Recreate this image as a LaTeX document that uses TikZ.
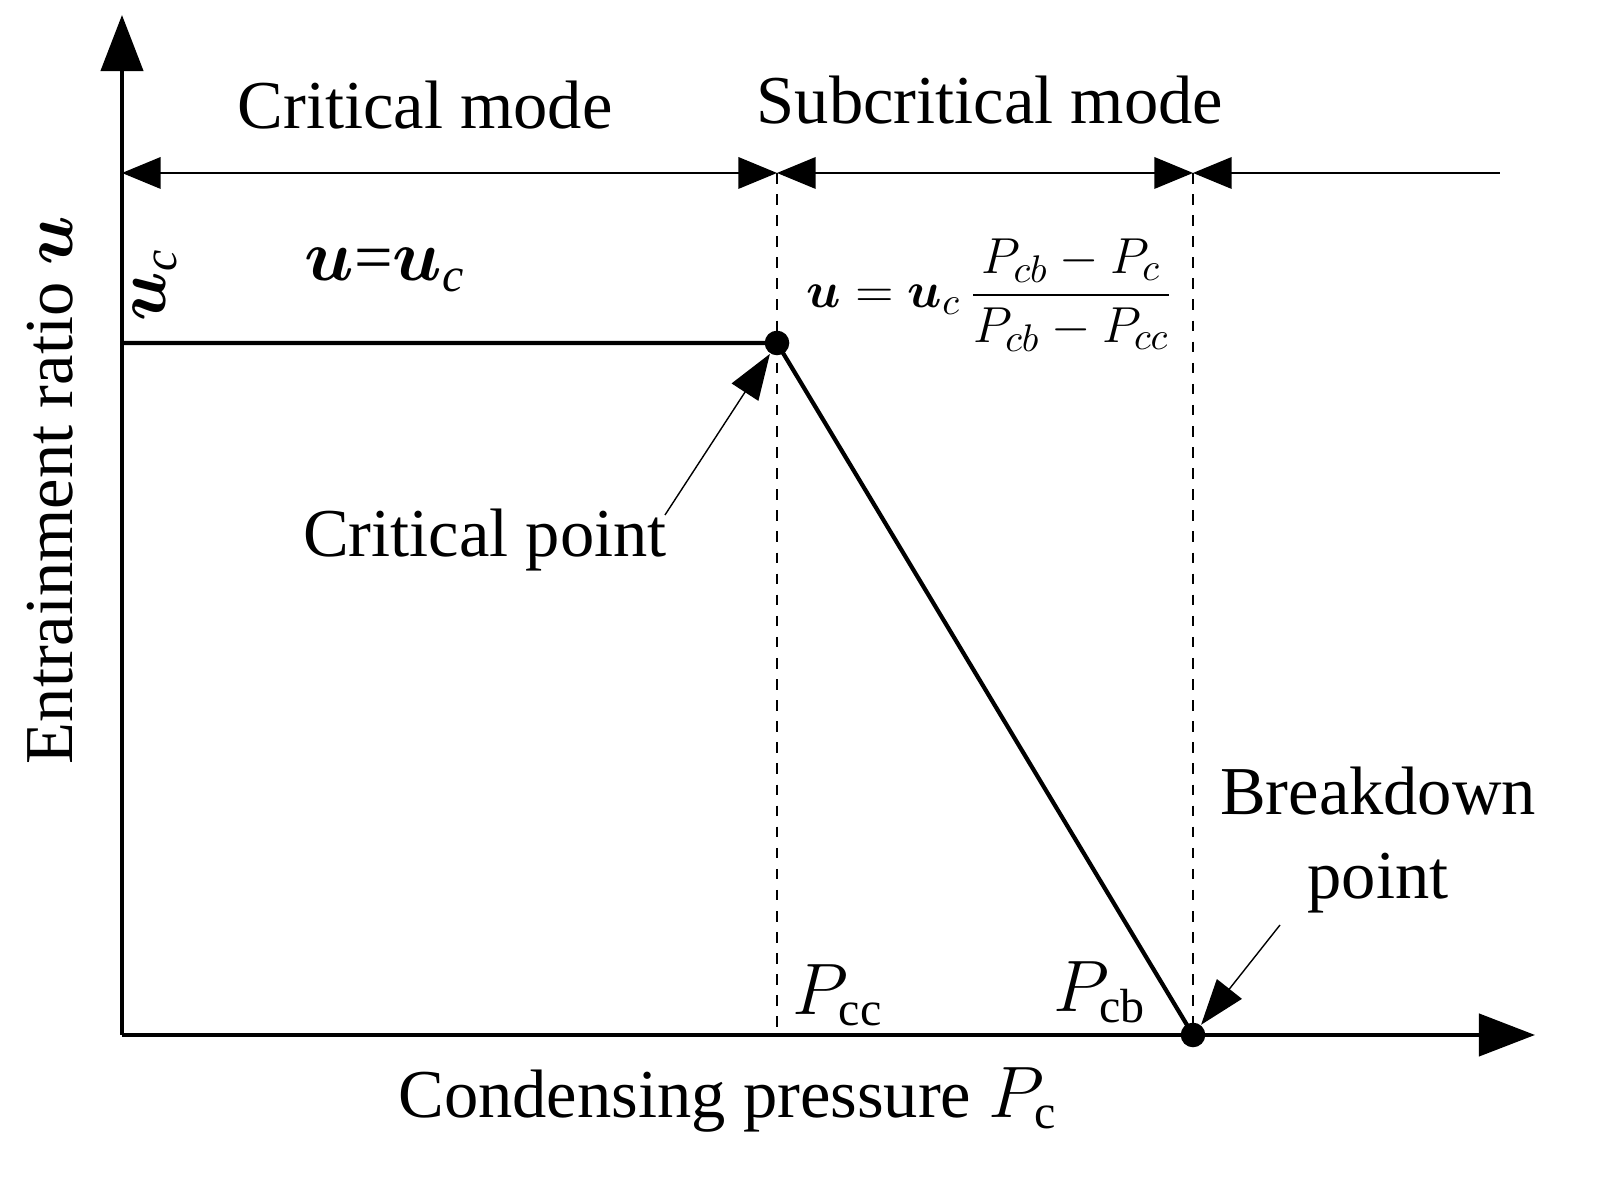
\documentclass[tikz,border=0pt]{standalone}
\usepackage{amsmath,bm}
\usepackage{fontspec}
\setmainfont{Liberation Serif}
\usetikzlibrary{arrows.meta,positioning}

\begin{document}
\begin{tikzpicture}[
	lbl/.style={font=\fontsize{19.5}{24}\selectfont},
	dim/.style={thin,{Triangle[length=11pt,width=9pt]}-{Triangle[length=11pt,width=9pt]}},
	dot/.style={circle,fill=black,inner sep=0pt,minimum size=7pt}]
	\useasboundingbox (0,0) rectangle (16.04,11.9);

	%Axes
	\coordinate (O) at (1.22,1.55);
	\coordinate (ytop) at (1.22,11.75);
	\coordinate (xend) at (15.35,1.55);
	\draw[very thick,-{Triangle[length=16pt,width=12pt]}] (O) -- (ytop);
	\draw[very thick,-{Triangle[length=16pt,width=12pt]}] (O) -- (xend);

	%Points of the curve
	\node[dot] (cp) at (7.77,8.47) {};
	\node[dot] (bp) at (11.93,1.55) {};
	\coordinate (uc) at (1.22,8.47);
	\draw[very thick] (uc) -- (cp.center) -- (bp.center);

	%Mode boundaries
	\coordinate (d0) at (1.22,10.17);
	\coordinate (d1) at (7.77,10.17);
	\coordinate (d2) at (11.93,10.17);
	\coordinate (d3) at (15.0,10.17);
	\draw[thin,dashed] (d1) -- (7.77,1.55);
	\draw[thin,dashed] (d2) -- (bp.center);
	\draw[dim] (d0) -- (d1);
	\draw[dim] (d1) -- (d2);
	\draw[thin,{Triangle[length=11pt,width=9pt]}-] (d2) -- (d3);

	%Labels
	\node[lbl] (crit) at (4.25,10.85) {Critical mode};
	\node[lbl] (sub) at (9.9,10.9) {Subcritical mode};
	\node[lbl] at (3.85,9.2) {$\bm{u}$=$\bm{u}_{\mathit{c}}$};
	\node[lbl,rotate=90] at (1.55,9.05) {$\bm{u}_{\mathit{c}}$};
	\node[font=\fontsize{15}{18}\selectfont] at (9.9,8.95) {$\bm{u}=\bm{u}_c\,\dfrac{P_{cb}-P_c}{P_{cb}-P_{cc}}$};
	\node[lbl] at (8.38,1.95) {$P_{\mathrm{cc}}$};
	\node[lbl] at (11.0,1.98) {$P_{\mathrm{cb}}$};
	\node[lbl,align=center] (bl) at (13.78,3.5) {Breakdown\\point};
	\node[lbl] (cl) at (4.85,6.5) {Critical point};
	\node[lbl] at (7.28,0.9) {Condensing pressure $P_{\mathrm{c}}$};
	\node[lbl,rotate=90] at (0.5,7.0) {Entrainment ratio $\bm{u}$};

	%Pointers
	\coordinate (ca) at (6.65,6.75);
	\coordinate (ba) at (12.8,2.65);
	\draw[thin,-{Triangle[length=13pt,width=9pt]}] (ca) -- (cp);
	\draw[thin,-{Triangle[length=13pt,width=9pt]}] (ba) -- (bp);
\end{tikzpicture}
\end{document}
